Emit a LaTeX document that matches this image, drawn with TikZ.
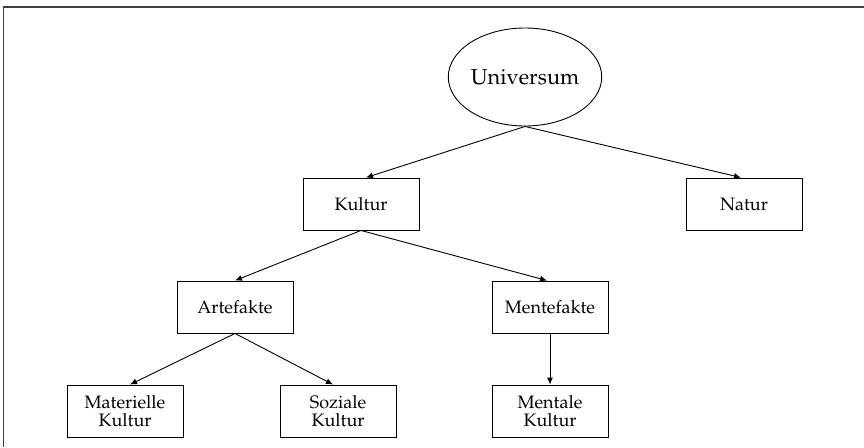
\documentclass[tikz,border=0pt]{standalone}
\usepackage[T1]{fontenc}
\usepackage{mathpazo}
\usetikzlibrary{arrows.meta,shapes.geometric}
\begin{document}
\begin{tikzpicture}[x=1pt,y=-1pt,
  box/.style={draw,line width=0.9pt,minimum width=116pt,minimum height=52pt,inner sep=0pt,align=center,font=\fontsize{18}{18}\selectfont},
  conn/.style={line width=0.9pt,-{Latex[length=7pt,width=6pt]}}]
\useasboundingbox (0,0) rectangle (864,447);
\draw[line width=1.6pt,black!75] (3.5,447) -- (3.5,7) -- (864,7);
\node[draw,ellipse,line width=0.9pt,minimum width=141pt,minimum height=98pt,inner sep=0pt,font=\fontsize{21.7}{24}\selectfont] (uni) at (525,77) {Universum};
\node[box] (kul) at (361,204) {Kultur};
\node[box] (nat) at (744,204) {Natur};
\node[box] (art) at (235,307) {Artefakte};
\node[box] (men) at (550,307) {Mentefakte};
\node[box] (mat) at (125,411) {Materielle\\Kultur};
\node[box] (soz) at (338,411) {Soziale\\Kultur};
\node[box] (mkt) at (550,411) {Mentale\\Kultur};
\draw[conn] (uni.south) -- ([xshift=5pt]kul.north);
\draw[conn] (uni.south) -- ([xshift=-3pt]nat.north);
\draw[conn] (kul.south) -- (art.north);
\draw[conn] (kul.south) -- ([xshift=-3pt]men.north);
\draw[conn] (art.south) -- ([xshift=5pt]mat.north);
\draw[conn] (art.south) -- ([xshift=-5pt]soz.north);
\draw[conn] (men.south) -- (mkt.north);
\end{tikzpicture}
\end{document}
